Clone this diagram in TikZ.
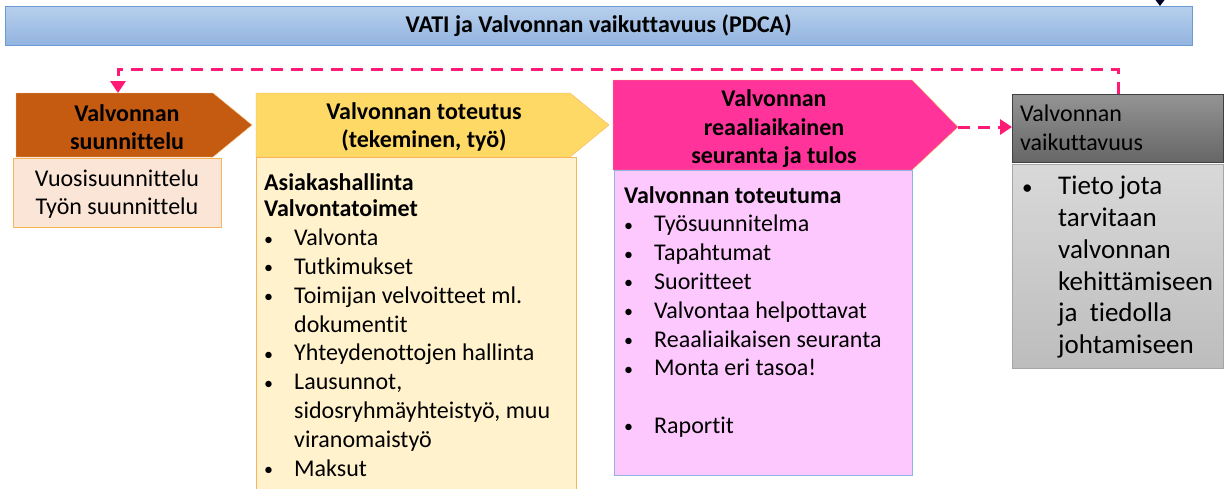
\documentclass[tikz,border=0pt]{standalone}
\usepackage{fontspec}
\setmainfont{Carlito}[Ligatures=NoCommon]
\usetikzlibrary{arrows.meta}

\definecolor{bannertop}{HTML}{B7CFEC}
\definecolor{bannerbot}{HTML}{92B4E0}
\definecolor{bannerline}{HTML}{6B9BD6}
\definecolor{planbrown}{HTML}{C55A11}
\definecolor{planlight}{HTML}{FBE5D6}
\definecolor{boxorange}{HTML}{F7B55A}
\definecolor{doyellow}{HTML}{FFD966}
\definecolor{dolight}{HTML}{FFF2CC}
\definecolor{checkpink}{HTML}{FF3399}
\definecolor{checklight}{HTML}{FDC8FD}
\definecolor{checkline}{HTML}{8EB4E3}
\definecolor{looppink}{HTML}{FF1A75}

\newcommand{\bul}{\makebox[30pt][l]{\raisebox{0.5pt}{\fontsize{18}{18}\selectfont\textbullet}}}
\newcommand{\bigbul}{\makebox[36pt][l]{\raisebox{0.5pt}{\fontsize{21}{21}\selectfont\textbullet}}}

\tikzset{
	head/.style={font=\bfseries\fontsize{24}{28.5}\selectfont, align=center, inner sep=0pt},
	listtext/.style={font=\fontsize{24}{28.8}\selectfont, align=left, anchor=north west, inner sep=0pt},
	subbox/.style={draw, anchor=north west, inner sep=0pt},
	loopline/.style={draw=looppink, line width=3pt, dash pattern=on 12pt off 8pt, -{Triangle[length=12pt,width=15pt]}}
}

\begin{document}
\begin{tikzpicture}[x=1pt,y=-1pt]
	\useasboundingbox (0,0) rectangle (1224,488);
	% otsikko
	\node (banner) [draw=bannerline, top color=bannertop, bottom color=bannerbot, minimum width=1187pt, minimum height=39pt, anchor=north west, inner sep=0pt, font=\bfseries\fontsize{24}{26}\selectfont] at (5,6) {VATI ja Valvonnan vaikuttavuus (PDCA)};
	\coordinate (tipstart) at (1160,-6);
	\draw[-{Triangle[length=9pt,width=13pt]}, line width=2pt, black!85!blue] (tipstart) -- (banner.north -| tipstart);

	% suunnittelu
	\draw[fill=planbrown, draw=boxorange!70] (16,93) -- (213,93) -- (252,125) -- (213,157) -- (16,157) -- cycle;
	\coordinate (plantop) at (118,93);
	\node (planhead) [head] at (127,127) {Valvonnan\\suunnittelu};
	\node (plansub) [subbox, draw=boxorange, fill=planlight, minimum width=208pt, minimum height=69pt] at (13,158) {};
	\node (plantext) [head, font=\fontsize{24}{28}\selectfont] at (117,194) {Vuosisuunnittelu\\Työn suunnittelu};

	% toteutus
	\draw[fill=doyellow, draw=boxorange] (256,93) -- (570,93) -- (609,125) -- (570,157) -- (256,157) -- cycle;
	\node (dohead) [head] at (424,127) {Valvonnan toteutus\\(tekeminen, työ)};
	\node (dosub) [subbox, draw=boxorange, fill=dolight, minimum width=320pt, minimum height=340pt] at (256,157) {};
	\node (dotext) [listtext] at (264,173) {\textbf{Asiakashallinta}\\[-2pt]
		\textbf{Valvontatoimet}\\
		\bul Valvonta\\
		\bul Tutkimukset\\
		\bul Toimijan velvoitteet ml.\\
		\hspace*{30pt}dokumentit\\
		\bul Yhteydenottojen hallinta\\
		\bul Lausunnot,\\
		\hspace*{30pt}sidosryhmäyhteistyö, muu\\
		\hspace*{30pt}viranomaistyö\\
		\bul Maksut};

	% seuranta
	\draw[fill=checkpink, draw=boxorange] (613,80) -- (912,80) -- (958,127) -- (912,170) -- (613,170) -- cycle;
	\coordinate (checktip) at (958,127);
	\node (checkhead) [head] at (774,129) {Valvonnan\\reaaliaikainen\\seuranta ja tulos};
	\node (checksub) [subbox, draw=checkline, fill=checklight, minimum width=298pt, minimum height=305pt] at (614,170) {};
	\node (checktext) [listtext] at (624,186) {\textbf{Valvonnan toteutuma}\\
		\bul Työsuunnitelma\\
		\bul Tapahtumat\\
		\bul Suoritteet\\
		\bul Valvontaa helpottavat\\
		\bul Reaaliaikaisen seuranta\\
		\bul Monta eri tasoa!\\
		\strut\\
		\bul Raportit};

	% vaikuttavuus
	\node (acthead) [subbox, draw=black!75, top color=black!42, bottom color=black!60, minimum width=211pt, minimum height=68pt] at (1012,94) {};
	\node (acttitle) [listtext, font=\fontsize{24}{29}\selectfont] at (1020,105) {Valvonnan\\vaikuttavuus};
	\node (actsub) [subbox, draw=black!35, top color=black!15, bottom color=black!26, minimum width=211pt, minimum height=204pt] at (1012,164) {};
	\node (acttext) [listtext, font=\fontsize{27}{31.8}\selectfont] at (1022,176) {\bigbul Tieto jota\\
		\hspace*{36pt}tarvitaan\\
		\hspace*{36pt}valvonnan\\
		\hspace*{36pt}kehittämiseen\\
		\hspace*{36pt}ja\ \ tiedolla\\
		\hspace*{36pt}johtamiseen};

	% nuolet
	\coordinate (loopstart) at (1118,94);
	\draw[loopline] (loopstart) -- ++(0,-25) -| (plantop);
	\draw[loopline] (checktip) -- (acthead.west |- checktip);
\end{tikzpicture}
\end{document}
